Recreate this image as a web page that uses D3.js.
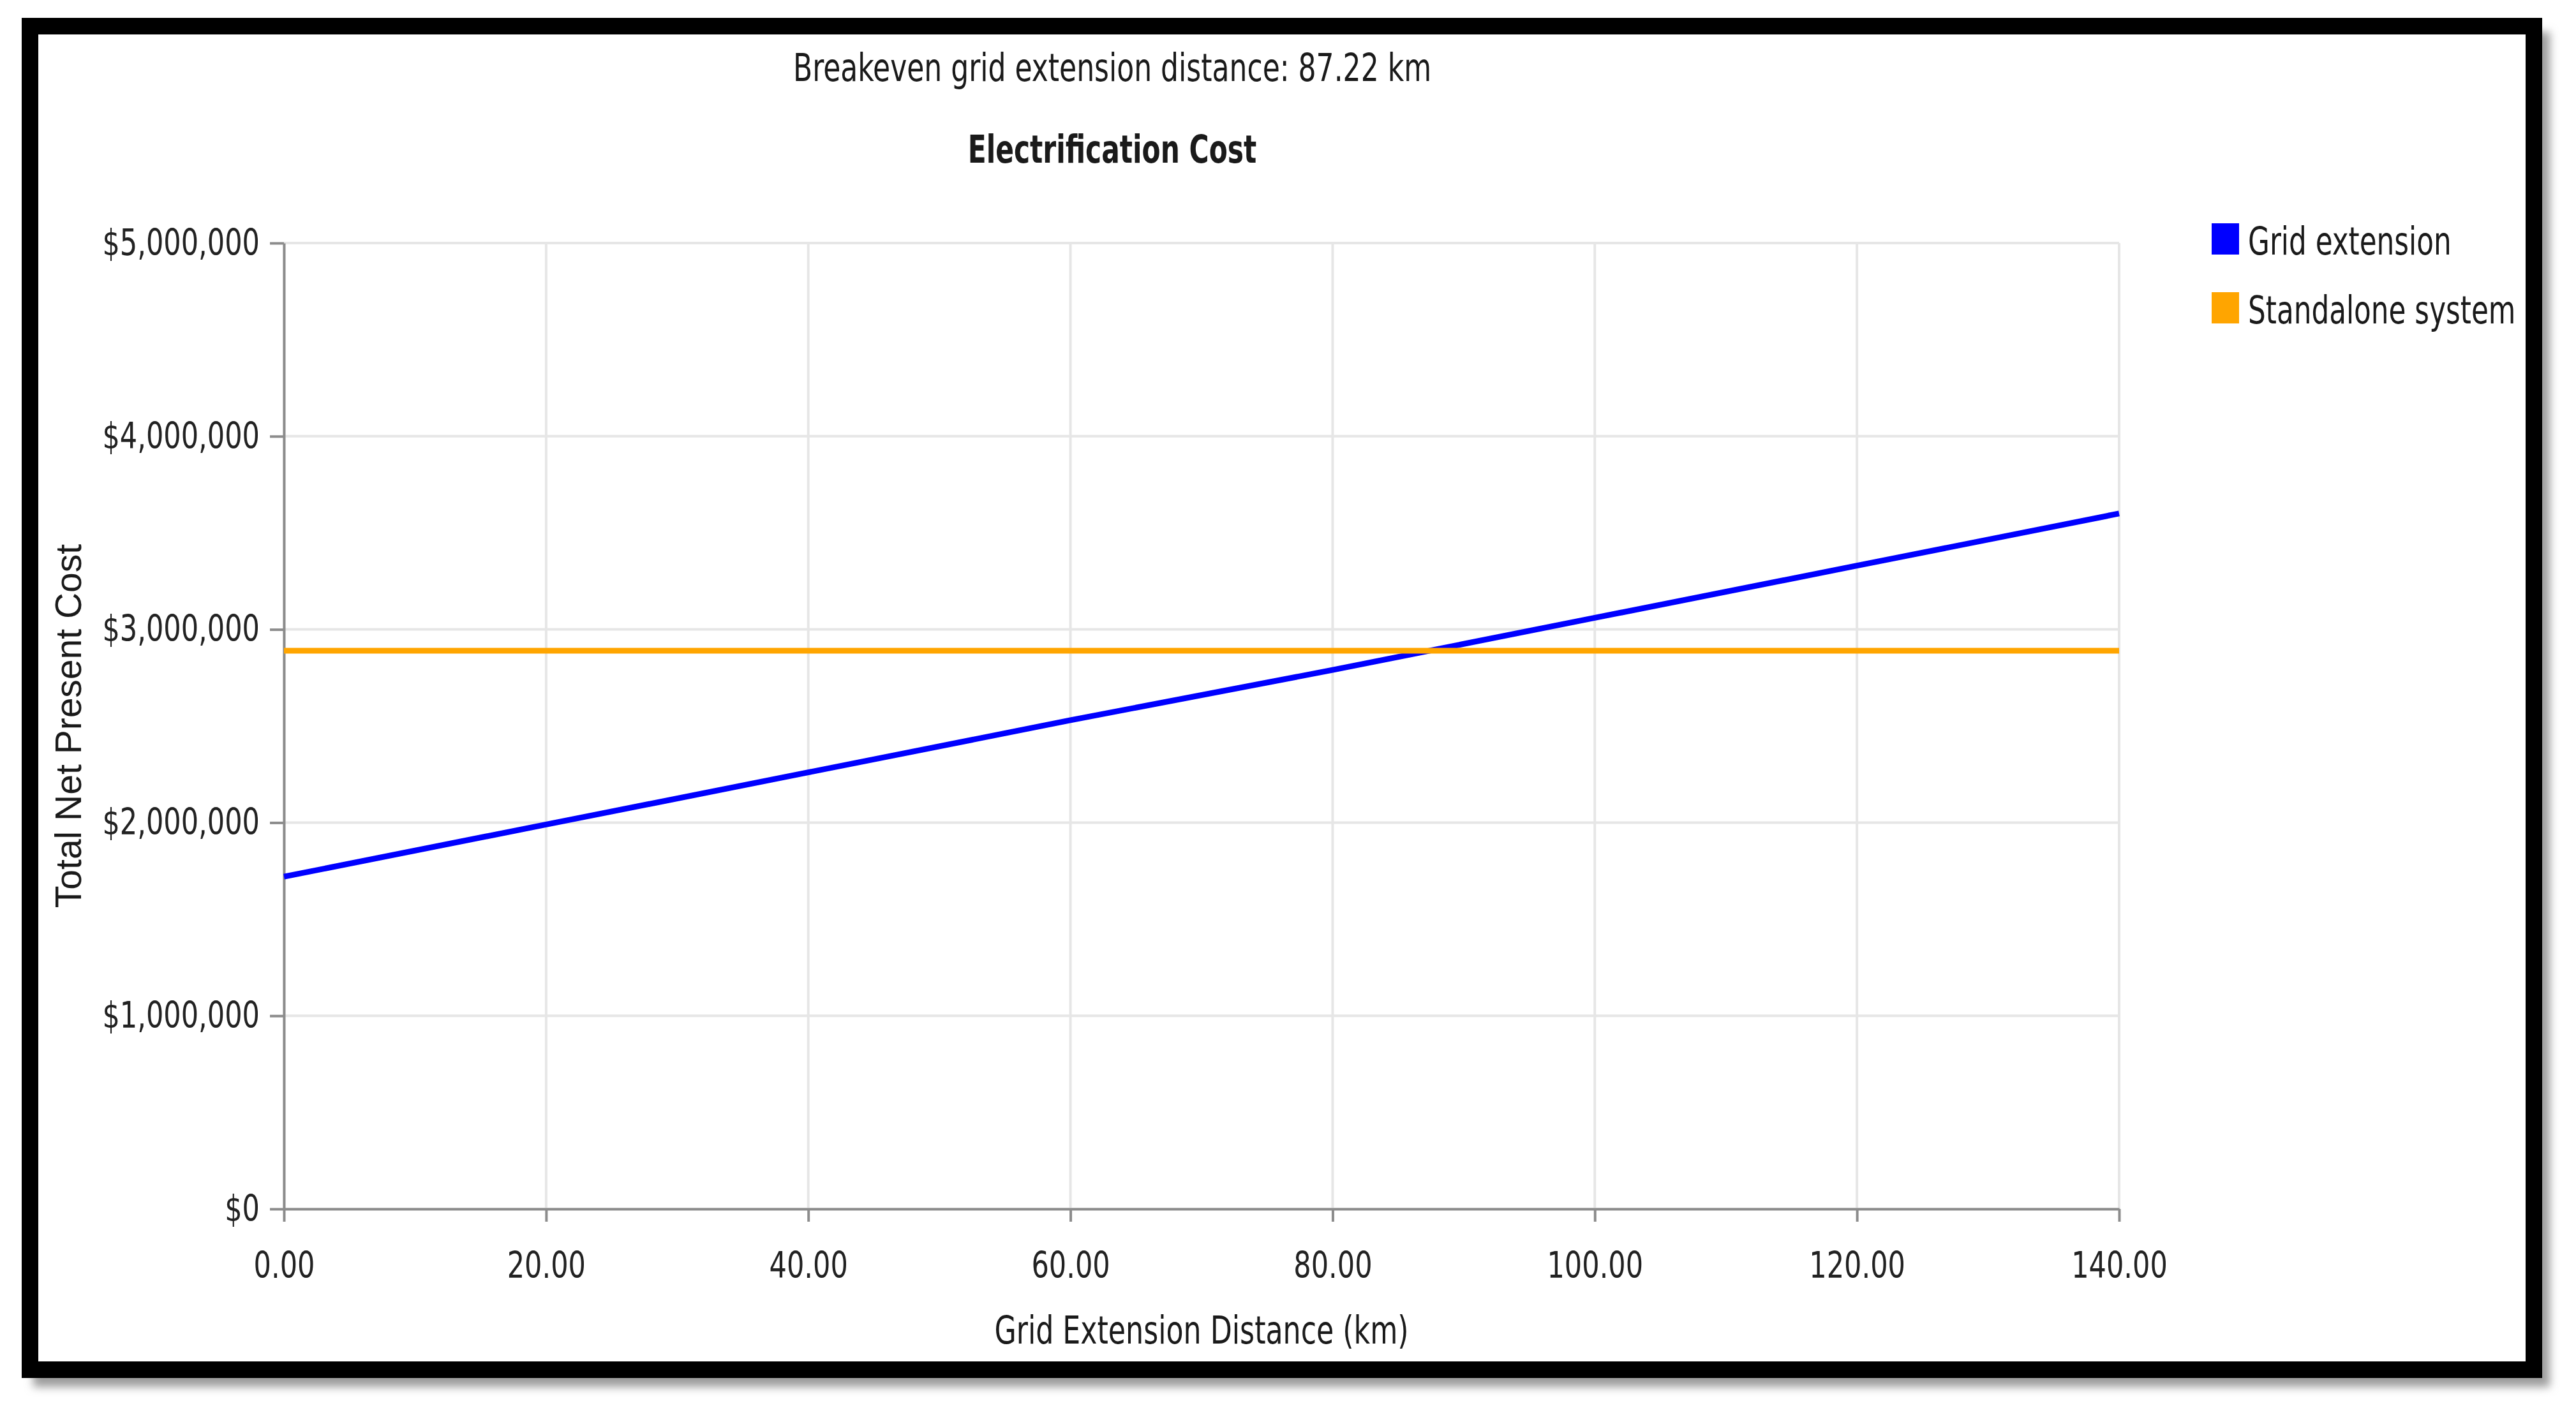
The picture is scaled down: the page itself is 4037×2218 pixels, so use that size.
<!DOCTYPE html>
<html>
<head>
<meta charset="utf-8">
<script src="https://cdn.jsdelivr.net/npm/d3@7"></script>
<style>
    body { margin: 0; background: #ffffff; }
    text { font-family: "Liberation Sans Narrow", "DejaVu Sans Condensed", "Arial Narrow", sans-serif; fill: #1a1a1a; }
</style>
</head>
<body>
<div id="chart"></div>
<script>

// Chart values
const distance_km = [0, 20, 40, 60, 80, 100, 120, 140];
const grid_extension_cost = [1720000, 1990000, 2260000, 2530000, 2790000, 3060000, 3330000, 3600000];
const standalone_cost = [2890000, 2890000, 2890000, 2890000, 2890000, 2890000, 2890000, 2890000];
const series_names = ["Grid extension", "Standalone system"];
const x_ticks = [0, 20, 40, 60, 80, 100, 120, 140];
const y_ticks = [0, 1000000, 2000000, 3000000, 4000000, 5000000];
const breakeven_km = 87.22;

const series_colors = ["#0000ff", "#ffa500"];

// Title Condense
// Description squeezes the text horizontally so it looks like the narrow original font
function condense(selection, factor) {
    selection.each(function() {
        const w = this.getComputedTextLength();
        d3.select(this)
            .attr("textLength", w * factor)
            .attr("lengthAdjust", "spacingAndGlyphs");
    });
}

// Title Frame
// Description black picture frame with its soft shadow
function frame(svg) {

    const defs = svg.append("defs");
    defs.append("filter")
        .attr("id", "shadow")
        .attr("x", "-5%").attr("y", "-5%")
        .attr("width", "110%").attr("height", "110%")
        .append("feGaussianBlur")
        .attr("stdDeviation", 7);

    svg.append("rect")
        .attr("x", 52).attr("y", 50)
        .attr("width", 3944).attr("height", 2124)
        .attr("fill", "#9c9c9c")
        .attr("filter", "url(#shadow)");

    svg.append("rect")
        .attr("x", 47).attr("y", 41)
        .attr("width", 3924).attr("height", 2106)
        .attr("fill", "#ffffff")
        .attr("stroke", "#000000")
        .attr("stroke-width", 26);
}

// Title Line chart
function lineChart() {

    const width = 4037;
    const height = 2218;
    const margin = {top: 381, left: 445, right: 4037 - 3321, bottom: 2218 - 1895};

    const svg = d3.select("#chart")
        .append("svg")
        .attr("width", width)
        .attr("height", height);

    frame(svg);

    // Scales
    const xScale = d3.scaleLinear()
        .domain([0, 140])
        .range([margin.left, width - margin.right]);

    const yScale = d3.scaleLinear()
        .domain([0, 5000000])
        .range([height - margin.bottom, margin.top]);

    // Grid
    svg.append("g")
        .selectAll("line")
        .data(y_ticks)
        .enter()
        .append("line")
            .attr("x1", margin.left)
            .attr("x2", width - margin.right)
            .attr("y1", d => yScale(d))
            .attr("y2", d => yScale(d))
            .attr("stroke", "#e6e6e6")
            .attr("stroke-width", 4);

    svg.append("g")
        .selectAll("line")
        .data(x_ticks)
        .enter()
        .append("line")
            .attr("x1", d => xScale(d))
            .attr("x2", d => xScale(d))
            .attr("y1", margin.top)
            .attr("y2", height - margin.bottom)
            .attr("stroke", "#e6e6e6")
            .attr("stroke-width", 4);

    // Axes
    const yAxis = svg.append("g")
        .attr("transform", `translate(${margin.left},0)`)
        .call(d3.axisLeft(yScale)
            .tickValues(y_ticks)
            .tickFormat(d3.format("$,"))
            .tickSize(22)
            .tickSizeOuter(0)
            .tickPadding(16));

    const xAxis = svg.append("g")
        .attr("transform", `translate(0,${height - margin.bottom})`)
        .call(d3.axisBottom(xScale)
            .tickValues(x_ticks)
            .tickFormat(d3.format(".2f"))
            .tickSize(20)
            .tickSizeOuter(0)
            .tickPadding(48));

    [yAxis, xAxis].forEach(function(ax) {
        ax.selectAll("path, line")
            .attr("stroke", "#8c8c8c")
            .attr("stroke-width", 4);
        ax.selectAll("text")
            .attr("font-size", 57)
            .attr("font-family", null)
            .style("fill", "#222222")
            .call(condense, 0.84);
    });

    // Lines
    const series = [grid_extension_cost, standalone_cost];
    const line = d3.line()
        .x((d, i) => xScale(distance_km[i]))
        .y(d => yScale(d));

    svg.selectAll(".series")
        .data(series)
        .enter()
        .append("path")
            .attr("class", "series")
            .attr("d", d => line(d))
            .attr("fill", "none")
            .attr("stroke", (d, i) => series_colors[i])
            .attr("stroke-width", 9);

    // Titles
    svg.append("text")
        .attr("x", 1743)
        .attr("y", 127)
        .attr("text-anchor", "middle")
        .attr("font-size", 60)
        .text(`Breakeven grid extension distance: ${breakeven_km.toFixed(2)} km`)
        .call(condense, 0.816);

    svg.append("text")
        .attr("x", 1743)
        .attr("y", 255)
        .attr("text-anchor", "middle")
        .attr("font-size", 60)
        .style("font-weight", "bold")
        .text("Electrification Cost")
        .call(condense, 0.785);

    svg.append("text")
        .attr("x", (xScale(0) + xScale(140)) / 2)
        .attr("y", 2106)
        .attr("text-anchor", "middle")
        .attr("font-size", 60)
        .text("Grid Extension Distance (km)")
        .call(condense, 0.82);

    svg.append("text")
        .attr("transform", "translate(127,1138) rotate(-90)")
        .attr("text-anchor", "middle")
        .attr("font-size", 57)
        .style("font-family", "'Liberation Sans', Arial, sans-serif")
        .text("Total Net Present Cost");

    // Legend
    const legend = svg.selectAll(".legend")
        .data(series_names)
        .enter()
        .append("g")
            .attr("class", "legend")
            .attr("transform", (d, i) => `translate(3466,${350 + 108 * i})`);

    legend.append("rect")
        .attr("width", 43)
        .attr("height", 49)
        .attr("fill", (d, i) => series_colors[i]);

    legend.append("text")
        .attr("x", 57)
        .attr("y", 49)
        .attr("font-size", 60)
        .text(d => d)
        .call(condense, 0.81);
}

lineChart();

</script>
</body>
</html>
